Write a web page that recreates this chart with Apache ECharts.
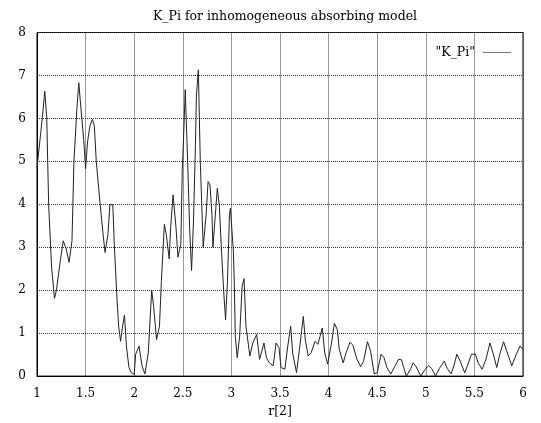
<!DOCTYPE html>
<html>
<head>
<meta charset="utf-8">
<script src="https://cdn.jsdelivr.net/npm/echarts@6/dist/echarts.min.js"></script>
<style>
html,body{margin:0;padding:0;background:#fff;}
#chart{width:541px;height:423px;}
</style>
</head>
<body>
<div id="chart"></div>
<script>
const titleText = 'K_Pi for inhomogeneous absorbing model';
const seriesName = '"K_Pi"';
const xAxisName = 'r[2]';
const xs = [1.00,1.055,1.08,1.10,1.12,1.15,1.18,1.20,1.24,1.27,1.30,1.33,1.36,1.38,1.41,1.43,1.45,1.48,1.50,1.52,1.545,1.57,1.59,1.61,1.65,1.68,1.70,1.73,1.75,1.78,1.795,1.82,1.84,1.86,1.88,1.90,1.92,1.946,1.97,2.00,2.015,2.05,2.08,2.11,2.145,2.18,2.20,2.23,2.26,2.28,2.31,2.33,2.36,2.375,2.40,2.43,2.45,2.48,2.495,2.51,2.525,2.55,2.57,2.59,2.61,2.63,2.64,2.66,2.68,2.71,2.74,2.76,2.78,2.80,2.81,2.83,2.855,2.875,2.90,2.92,2.94,2.96,2.98,2.99,3.02,3.03,3.04,3.06,3.085,3.11,3.13,3.15,3.19,3.22,3.26,3.29,3.335,3.36,3.39,3.43,3.46,3.49,3.51,3.55,3.58,3.61,3.63,3.67,3.70,3.74,3.76,3.79,3.82,3.86,3.89,3.935,3.96,3.99,4.03,4.06,4.09,4.11,4.15,4.18,4.22,4.25,4.29,4.33,4.36,4.40,4.43,4.47,4.50,4.54,4.57,4.60,4.64,4.68,4.72,4.75,4.77,4.80,4.84,4.87,4.90,4.95,4.99,5.03,5.06,5.10,5.14,5.19,5.22,5.26,5.29,5.32,5.35,5.40,5.43,5.47,5.51,5.54,5.58,5.62,5.66,5.69,5.73,5.76,5.80,5.83,5.885,5.93,5.97,6.00];
const ys = [4.85,6.02,6.63,6.03,3.99,2.54,1.81,2.0,2.69,3.15,2.96,2.65,3.15,4.99,6.21,6.83,6.29,5.52,4.83,5.45,5.83,5.98,5.83,4.99,3.99,3.30,2.88,3.30,3.99,3.99,3.07,1.92,1.16,0.81,1.16,1.42,0.70,0.20,0.08,0.04,0.51,0.70,0.24,0.05,0.54,2.0,1.62,0.85,1.16,2.23,3.53,3.30,2.73,3.46,4.22,3.46,2.77,3.07,4.83,5.68,6.67,4.99,3.46,2.46,3.61,5.37,6.52,7.13,4.99,3.0,3.76,4.53,4.45,3.76,3.0,2.96,4.37,3.99,2.84,2.0,1.31,2.23,3.76,3.91,2.92,2.15,0.93,0.43,0.93,2.08,2.27,1.16,0.47,0.77,0.97,0.39,0.77,0.43,0.31,0.24,0.77,0.66,0.20,0.16,0.70,1.16,0.54,0.08,0.62,1.39,0.85,0.47,0.54,0.81,0.74,1.12,0.54,0.28,0.77,1.23,1.08,0.62,0.31,0.54,0.79,0.72,0.40,0.22,0.35,0.80,0.60,0.05,0.08,0.51,0.43,0.20,0.05,0.22,0.39,0.38,0.22,0.0,0.15,0.31,0.22,0.0,0.15,0.24,0.18,0.0,0.18,0.35,0.18,0.05,0.25,0.51,0.37,0.08,0.25,0.51,0.51,0.30,0.16,0.40,0.77,0.55,0.20,0.50,0.80,0.60,0.24,0.50,0.70,0.62];

const pts = xs.map((x, i) => [x, ys[i]]);
const font = 'DejaVu Serif';
const chart = echarts.init(document.getElementById('chart'));
chart.setOption({
  animation: false,
  backgroundColor: '#fff',
  title: {
    text: titleText, left: 280, textAlign: 'center', top: 5,
    textStyle: { fontFamily: font, fontSize: 12.5, fontWeight: 'normal', color: '#000' }
  },
  legend: {
    right: 30, top: 46, padding: 0, align: 'right', itemWidth: 28, itemHeight: 10, itemGap: 0,
    textStyle: { fontFamily: font, fontSize: 12.5, color: '#000', padding: [0, 3, 0, 0] },
    data: [{ name: seriesName, icon: 'path://M0,4 L28,4 L28,5 L0,5 Z', itemStyle: { color: '#777' } }]
  },
  grid: { left: 37, top: 32.5, width: 486, height: 348, show: true, borderColor: '#000', borderWidth: 1 },
  xAxis: {
    type: 'value', min: 1, max: 6, interval: 0.5,
    name: xAxisName, nameLocation: 'middle', nameGap: 26,
    nameTextStyle: { fontFamily: font, fontSize: 12.5, color: '#000' },
    axisLine: { show: true, lineStyle: { color: '#000' } },
    axisTick: { show: false },
    axisLabel: { fontFamily: font, fontSize: 12, color: '#000', margin: 12 },
    splitLine: { show: true, lineStyle: { color: '#333', type: [1, 1], width: 1 } }
  },
  yAxis: {
    type: 'value', min: 0, max: 8, interval: 1,
    axisLine: { show: true, lineStyle: { color: '#000' } },
    axisTick: { show: false },
    axisLabel: { fontFamily: font, fontSize: 12, color: '#000', margin: 11 },
    splitLine: { show: true, lineStyle: { color: '#333', type: [1, 1], width: 1 } }
  },
  series: [{
    name: seriesName, type: 'line', data: pts, symbol: 'none', showSymbol: false,
    lineStyle: { color: '#222', width: 1 }, itemStyle: { color: '#222' }
  }]
});
</script>
</body>
</html>
